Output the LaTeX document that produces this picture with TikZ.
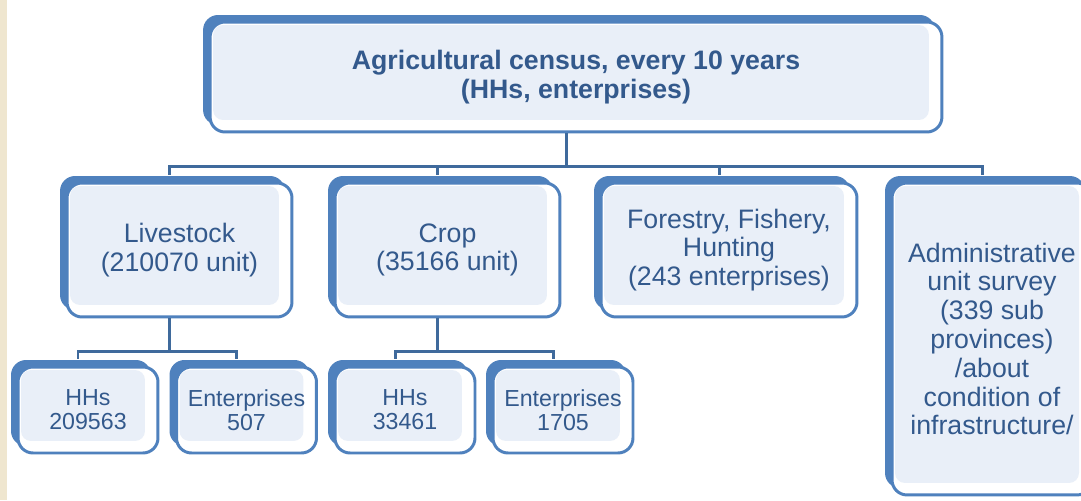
\documentclass[tikz,border=0pt]{standalone}
\usepackage{fontspec}
\setmainfont{Liberation Sans}
\usetikzlibrary{positioning, shadows}

\definecolor{boxblue}{HTML}{4F81BD}
\definecolor{linkblue}{HTML}{3F6A9C}
\definecolor{textblue}{HTML}{33598C}
\definecolor{boxfill}{HTML}{E9EFF8}
\definecolor{paper}{HTML}{EFE6CF}

\begin{document}
\begin{tikzpicture}[
    x=0.02cm, y=-0.02cm,
    % Styles
    census_box/.style={
        draw=boxblue,
        line width=1.7pt,
        fill=white,
        rounded corners=0.3cm,
        general shadow={fill=boxblue, shadow xshift=-0.14cm, shadow yshift=0.14cm},
        path picture={
            \fill[boxfill, rounded corners=0.2cm]
                ([shift={(0.06cm,-0.06cm)}]path picture bounding box.north west) rectangle
                ([shift={(-0.26cm,0.24cm)}]path picture bounding box.south east);
        },
        text=textblue,
        align=center,
        inner sep=0pt,
        font=\fontsize{15.2}{16.4}\selectfont
    },
    top_box/.style={
        census_box,
        minimum width=14.64cm,
        minimum height=2.2cm,
        font=\bfseries\fontsize{15.2}{16.4}\selectfont
    },
    branch_box/.style={
        census_box,
        minimum width=4.5cm,
        minimum height=2.68cm
    },
    leaf_box/.style={
        census_box,
        minimum width=2.8cm,
        minimum height=1.72cm,
        font=\fontsize{13.2}{13.6}\selectfont
    },
    link/.style={draw=linkblue, line width=1.7pt}
]

    \clip (0,0) rectangle (1081,500);
    \fill[white] (0,0) rectangle (1081,500);
    \fill[paper] (0,0) rectangle (7,500);

    % --- TOP ---
    \node[top_box] (census) at (576,77) {Agricultural census, every 10 years\\(HHs, enterprises)};

    % --- BRANCHES ---
    \node[branch_box] (live) at (179.5,250) {Livestock\\(210070 unit)};
    \node[branch_box] (crop) at (447.5,250) {Crop\\(35166 unit)};
    \node[branch_box, minimum width=5.12cm] (forest) at (729,250) {Forestry, Fishery,\\Hunting\\(243 enterprises)};
    \node[branch_box, minimum width=4cm, minimum height=6.24cm] (admin) at (992,339)
        {Administrative\\unit survey\\(339 sub\\provinces)\\/about\\condition of\\infrastructure/};

    % --- LEAVES ---
    \node[leaf_box] (hh_live) at (88,410) {HHs\\209563};
    \node[leaf_box] (ent_live) at (246.5,410) {Enterprises\\507};
    \node[leaf_box] (hh_crop) at (405,410) {HHs\\33461};
    \node[leaf_box] (ent_crop) at (563,410) {Enterprises\\1705};

    % --- CONNECTORS ---
    \draw[link] ([xshift=-0.2cm]census.south) -- ++(0,33) coordinate (cbus);
    \draw[link] (cbus) -| ([xshift=-0.2cm, yshift=0.14cm]live.north);
    \draw[link] (cbus) -| ([xshift=-0.2cm, yshift=0.14cm]crop.north);
    \draw[link] (cbus) -| ([xshift=-0.2cm, yshift=0.14cm]forest.north);
    \draw[link] (cbus) -| ([xshift=-0.2cm, yshift=0.14cm]admin.north);

    \draw[link] ([xshift=-0.2cm]live.south) -- ++(0,33) coordinate (lbus);
    \draw[link] (lbus) -| ([xshift=-0.2cm, yshift=0.14cm]hh_live.north);
    \draw[link] (lbus) -| ([xshift=-0.2cm, yshift=0.14cm]ent_live.north);

    \draw[link] ([xshift=-0.2cm]crop.south) -- ++(0,33) coordinate (rbus);
    \draw[link] (rbus) -| ([xshift=-0.2cm, yshift=0.14cm]hh_crop.north);
    \draw[link] (rbus) -| ([xshift=-0.2cm, yshift=0.14cm]ent_crop.north);

\end{tikzpicture}
\end{document}
